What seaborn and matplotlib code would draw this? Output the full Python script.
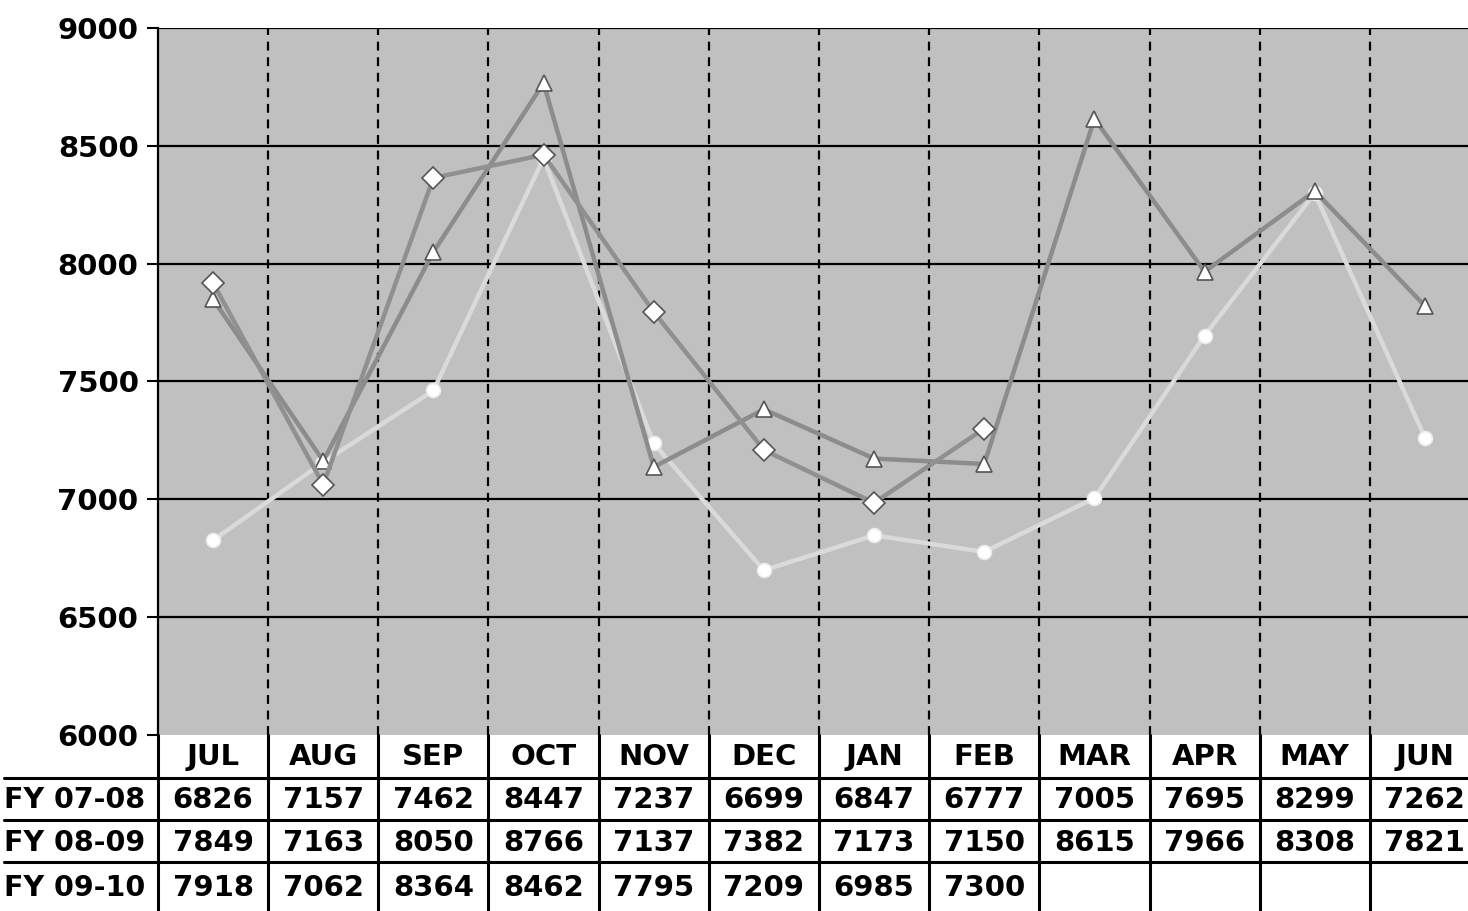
import numpy as np
import pandas as pd
import matplotlib
matplotlib.use("Agg")
import matplotlib.pyplot as plt
import matplotlib.transforms as mtransforms
import seaborn as sns

months = ["JUL", "AUG", "SEP", "OCT", "NOV", "DEC", "JAN", "FEB", "MAR", "APR", "MAY", "JUN"]
fy_07_08 = [6826, 7157, 7462, 8447, 7237, 6699, 6847, 6777, 7005, 7695, 8299, 7262]
fy_08_09 = [7849, 7163, 8050, 8766, 7137, 7382, 7173, 7150, 8615, 7966, 8308, 7821]
fy_09_10 = [7918, 7062, 8364, 8462, 7795, 7209, 6985, 7300]
series_names = ["FY 07-08", "FY 08-09", "FY 09-10"]
y_ticks = [6000, 6500, 7000, 7500, 8000, 8500, 9000]

series_values = [fy_07_08, fy_08_09, fy_09_10]
rows = []
for name, vals in zip(series_names, series_values):
    for i, v in enumerate(vals):
        rows.append({"pos": i, "month": months[i], "series": name, "value": v})
df = pd.DataFrame(rows)

sns.set_theme(style="white")
plt.rcParams["font.family"] = ["DejaVu Sans"]

W, H = 1468, 911
fig = plt.figure(figsize=(W / 100, H / 100), dpi=100)
fig.patch.set_facecolor("white")

ax_left, ax_right = 158, 1480
ax_top, ax_bottom = 28, 735
ax = fig.add_axes([ax_left / W, 1 - ax_bottom / H,
                   (ax_right - ax_left) / W, (ax_bottom - ax_top) / H])
ax.set_facecolor("#c0c0c0")

palette = {"FY 07-08": "#dadada", "FY 08-09": "#8c8c8c", "FY 09-10": "#909090"}
markers = {"FY 07-08": "o", "FY 08-09": "^", "FY 09-10": "D"}
sizes = {"FY 07-08": 10, "FY 08-09": 12, "FY 09-10": 11}
edges = {"FY 07-08": "#ececec", "FY 08-09": "#555555", "FY 09-10": "#555555"}

# lightest series drawn first so the darker lines sit on top
for name in series_names:
    sub = df[df["series"] == name]
    sns.lineplot(data=sub, x="pos", y="value", ax=ax, color=palette[name],
                 linewidth=3.2, marker=markers[name], markersize=sizes[name],
                 markerfacecolor="white", markeredgecolor=edges[name],
                 markeredgewidth=1.2, legend=False, zorder=3)

ax.set_xlim(-0.5, len(months) - 0.5)
ax.set_ylim(6000, 9000)
ax.set_yticks(y_ticks)
ax.set_yticklabels([str(t) for t in y_ticks], fontsize=21, fontweight="bold",
                   color="black")
ax.set_xticks([])
ax.set_xlabel("")
ax.set_ylabel("")
ax.tick_params(axis="y", length=8, width=1.5, color="black", pad=6, left=True)

for t in y_ticks[1:]:
    ax.axhline(t, color="black", linewidth=1.6, zorder=1)
for i in range(len(months) - 1):
    ax.axvline(i + 0.5, color="black", linewidth=1.6, linestyle=(0, (4, 3)), zorder=1)

for s in ["top", "right", "bottom"]:
    ax.spines[s].set_visible(False)
ax.spines["left"].set_color("black")
ax.spines["left"].set_linewidth(1.6)

# data table under the plot
trans = mtransforms.blended_transform_factory(ax.transData, fig.transFigure)


def fy(px):
    return 1 - px / H


row_edges = [735, 778, 820, 862]
lw = 2.2
for px in row_edges[1:]:
    fig.add_artist(plt.Line2D([0.003, 1.0], [fy(px), fy(px)], color="black",
                              linewidth=lw, transform=fig.transFigure))
label_x = ax_left / W
fig.add_artist(plt.Line2D([label_x, label_x], [fy(735), fy(911)], color="black",
                          linewidth=lw, transform=fig.transFigure))
for i in range(len(months) - 1):
    fig.add_artist(plt.Line2D([i + 0.5, i + 0.5], [fy(735), fy(911)], color="black",
                              linewidth=lw, transform=trans))

text_kw = dict(fontweight="bold", color="black", va="center")
for i, m in enumerate(months):
    fig.text(i, fy(757), m, transform=trans, ha="center", fontsize=21, **text_kw)

row_centers = [800, 843, 888]
for name, vals, yc in zip(series_names, series_values, row_centers):
    fig.text(0.003, fy(yc), name, transform=fig.transFigure, ha="left",
             fontsize=20.5, **text_kw)
    for i, v in enumerate(vals):
        fig.text(i, fy(yc), str(v), transform=trans, ha="center", fontsize=21, **text_kw)

fig.savefig("out.png", dpi=100, facecolor="white")
